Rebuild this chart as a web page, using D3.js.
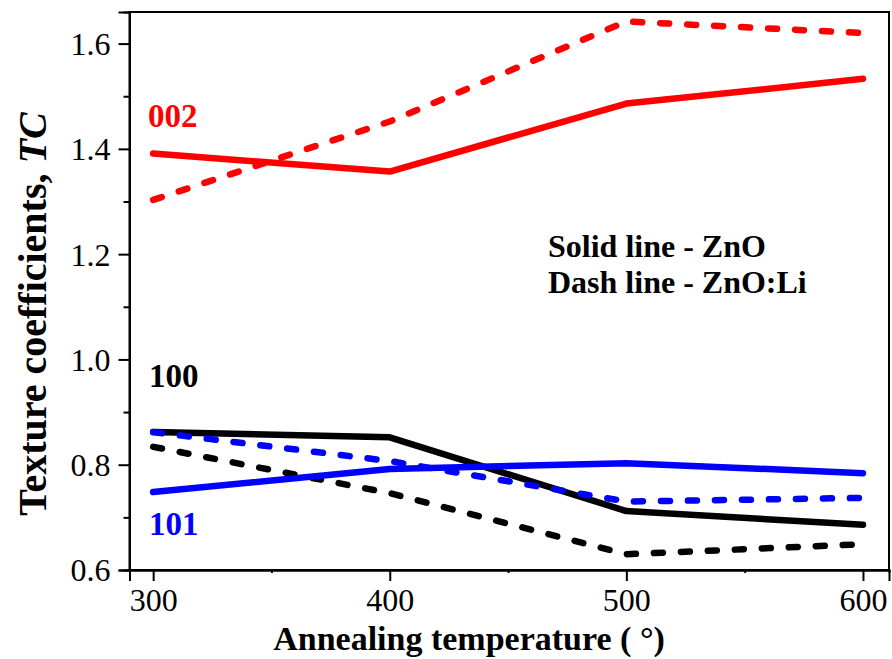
<!DOCTYPE html>
<html><head><meta charset="utf-8">
<script src="https://cdn.jsdelivr.net/npm/d3@7"></script>
<style>body{margin:0;background:#fff}svg{display:block}svg text{font-family:'Liberation Serif',serif !important}</style>
</head><body>
<script>
const temps = [300, 400, 500, 600];
const tc002ZnO = [1.391, 1.357, 1.486, 1.533];
const tc002Li  = [1.303, 1.452, 1.642, 1.620];
const tc100ZnO = [0.862, 0.852, 0.712, 0.686];
const tc100Li  = [0.834, 0.746, 0.630, 0.649];
const tc101ZnO = [0.748, 0.792, 0.803, 0.784];
const tc101Li  = [0.862, 0.807, 0.730, 0.737];
const xTicks = [300, 400, 500, 600];
const yTicks = [0.6, 0.8, 1.0, 1.2, 1.4, 1.6];

const series = [
  {v: tc002ZnO, c: "#ff0000", dash: false},
  {v: tc002Li,  c: "#ff0000", dash: true},
  {v: tc100ZnO, c: "#000000", dash: false},
  {v: tc100Li,  c: "#000000", dash: true},
  {v: tc101Li,  c: "#0000ff", dash: true},
  {v: tc101ZnO, c: "#0000ff", dash: false}
];

const FF = "'Liberation Serif', serif";
const W = 892, H = 659;
const m = {l: 129.5, r: 3, t: 12, b: 89};
const svg = d3.select("body").append("svg").attr("width", W).attr("height", H).attr("font-family", FF);
const x = d3.scaleLinear().domain([290, 611]).range([m.l, W - m.r]);
const y = d3.scaleLinear().domain([0.6, 1.66]).range([H - m.b, m.t]);

svg.append("rect").attr("x", m.l).attr("y", m.t).attr("width", W - m.r - m.l).attr("height", H - m.b - m.t)
  .attr("fill", "none").attr("stroke", "#000").attr("stroke-width", 2);

const ya = svg.append("g").attr("transform", `translate(${m.l},0)`)
  .call(d3.axisLeft(y).tickValues(yTicks).tickFormat(d3.format(".1f")).tickSize(11).tickPadding(8));
ya.selectAll(".tick text").attr("font-size", 32).attr("dy", "0.34em");
const ym = svg.append("g").attr("transform", `translate(${m.l},0)`)
  .call(d3.axisLeft(y).tickValues([0.7, 0.9, 1.1, 1.3, 1.5]).tickFormat("").tickSize(6));
const xa = svg.append("g").attr("transform", `translate(0,${H - m.b})`)
  .call(d3.axisBottom(x).tickValues(xTicks).tickFormat(d3.format("d")).tickSize(11).tickPadding(7));
xa.selectAll(".tick text").attr("font-size", 32);
const xm = svg.append("g").attr("transform", `translate(0,${H - m.b})`)
  .call(d3.axisBottom(x).tickValues([350, 450, 550]).tickFormat("").tickSize(3));
[ya, ym, xa, xm].forEach(g => {
  g.attr("font-family", FF);
  g.select(".domain").attr("stroke-width", 2);
  g.selectAll(".tick line").attr("stroke-width", 2);
});

const line = d3.line().x((d, i) => x(temps[i])).y(d => y(d));
series.forEach(s => {
  svg.append("path").datum(s.v).attr("d", line)
    .attr("fill", "none").attr("stroke", s.c).attr("stroke-width", 6.5)
    .attr("stroke-linejoin", "round").attr("stroke-linecap", "round")
    .attr("stroke-dasharray", s.dash ? "9 18" : null);
});

const lab = (t, px, py, c, fs) => svg.append("text").attr("x", px).attr("y", py).attr("fill", c)
  .attr("font-size", fs).attr("font-weight", "bold").text(t);
lab("002", 148, 127, "#ff0000", 33);
lab("100", 149, 387, "#000", 33);
lab("101", 149, 535, "#0000ff", 33);
lab("Solid line - ZnO", 548, 257, "#000", 32);
lab("Dash line - ZnO:Li", 548, 293, "#000", 32);

svg.append("text").attr("x", 469).attr("y", 650).attr("text-anchor", "middle")
  .attr("font-size", 34).attr("font-weight", "bold").text("Annealing temperature ( °)");
const yt = svg.append("text").attr("transform", "translate(46,314) rotate(-90)").attr("text-anchor", "middle")
  .attr("font-size", 40).attr("font-weight", "bold");
yt.append("tspan").text("Texture coefficients, ");
yt.append("tspan").attr("font-style", "italic").text("TC");
</script>
</body></html>
